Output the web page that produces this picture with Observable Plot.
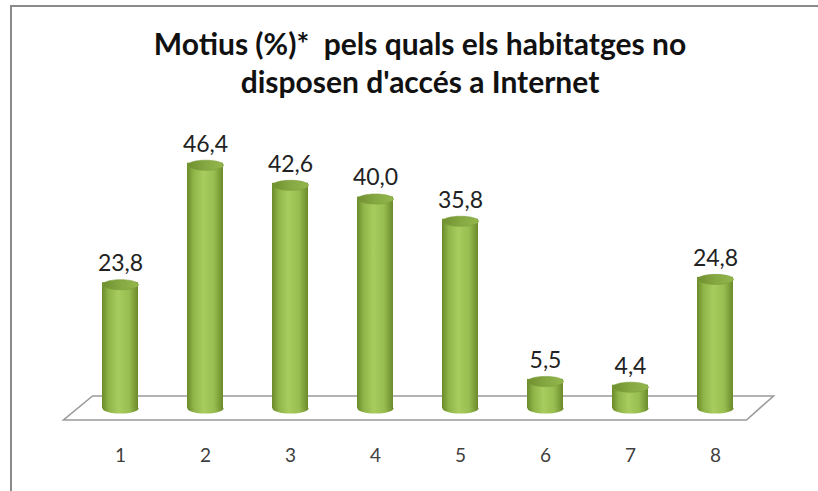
<!DOCTYPE html>
<html>
<head>
<meta charset="utf-8">
<script src="https://cdn.jsdelivr.net/npm/d3@7"></script>
<script src="https://cdn.jsdelivr.net/npm/@observablehq/plot@0.6"></script>
<style>
  html, body { margin: 0; padding: 0; background: #fff; }
  #wrap { position: relative; width: 818px; height: 491px; overflow: hidden; }
  #frame { position: absolute; left: 10px; top: 5px; right: -4px; bottom: -4px;
           border-left: 2px solid #8a8a8a; border-top: 2px solid #8a8a8a; }
  #title { position: absolute; left: 22px; top: 24px; width: 796px; text-align: center;
           font-family: Lato, "Open Sans", sans-serif; font-weight: 700; font-size: 30px;
           line-height: 38px; color: #111; white-space: pre; }
  #chart { position: absolute; left: 0; top: 0; }
</style>
</head>
<body>
<div id="wrap">
  <div id="frame"></div>
  <div id="chart"></div>
  <div id="title"></div>
</div>
<script>
const titleLines = ["Motius (%)*  pels quals els habitatges no", "disposen d'accés a Internet"];
const categories = ["1", "2", "3", "4", "5", "6", "7", "8"];
const values = [23.8, 46.4, 42.6, 40.0, 35.8, 5.5, 4.4, 24.8];

const data = categories.map((c, i) => ({cat: c, value: values[i]}));
const fmt = v => v.toFixed(1).replace(".", ",");

document.getElementById("title").textContent = titleLines.join("\n");

// ellipse symbol for cylinder caps
const ellipse = {
  draw(ctx, size) {
    const rx = Math.sqrt(size / Math.PI), ry = rx * 0.28, k = 0.5523;
    ctx.moveTo(-rx, 0);
    ctx.bezierCurveTo(-rx, -ry * k, -rx * k, -ry, 0, -ry);
    ctx.bezierCurveTo(rx * k, -ry, rx, -ry * k, rx, 0);
    ctx.bezierCurveTo(rx, ry * k, rx * k, ry, 0, ry);
    ctx.bezierCurveTo(-rx * k, ry, -rx, ry * k, -rx, 0);
    ctx.closePath();
  }
};

const NS = "http://www.w3.org/2000/svg";
function defsMark() {
  const g = document.createElementNS(NS, "defs");
  const mk = (id, stops) => {
    const lg = document.createElementNS(NS, "linearGradient");
    lg.setAttribute("id", id);
    lg.setAttribute("x1", "0"); lg.setAttribute("x2", "1");
    lg.setAttribute("y1", "0"); lg.setAttribute("y2", "0");
    for (const [o, c] of stops) {
      const s = document.createElementNS(NS, "stop");
      s.setAttribute("offset", o); s.setAttribute("stop-color", c);
      lg.appendChild(s);
    }
    g.appendChild(lg);
  };
  mk("body", [["0", "#6a8a2a"], ["0.18", "#8fb448"], ["0.45", "#a8cc5e"], ["0.75", "#98bd50"], ["1", "#6b8a2b"]]);
  mk("cap", [["0", "#6f8f2f"], ["0.5", "#86a842"], ["1", "#93b64c"]]);
  return g;
}

function floorMark(index, scales, values, dims) {
  const y0 = scales.y(0);
  const L = dims.marginLeft, R = dims.width - dims.marginRight;
  const pts = [[L + 15, y0 - 14], [L - 14, y0 + 10], [R - 11, y0 + 10], [R + 16, y0 - 14]];
  const p = document.createElementNS(NS, "polygon");
  p.setAttribute("points", pts.map(d => d.join(",")).join(" "));
  p.setAttribute("fill", "#fff");
  p.setAttribute("stroke", "#9a9a9a");
  p.setAttribute("stroke-width", "1.6");
  return p;
}

const chart = Plot.plot({
  width: 818,
  height: 491,
  marginLeft: 77.5,
  marginRight: 60.5,
  marginTop: 145.7,
  marginBottom: 81,
  style: {background: "transparent", fontFamily: "Lato, 'Open Sans', sans-serif"},
  x: {type: "band", domain: categories, paddingInner: 0.576, paddingOuter: 0.288, label: null},
  y: {domain: [0, 50], axis: null},
  marks: [
    defsMark,
    floorMark,
    Plot.dot(data, {x: "cat", y: () => 0, r: 18, dy: -2, symbol: ellipse, fill: "url(#body)", stroke: "none"}),
    Plot.barY(data, {x: "cat", y: "value", fill: "url(#body)", dy: -2}),
    Plot.dot(data, {x: "cat", y: "value", r: 18, symbol: ellipse, fill: "url(#cap)", stroke: "#7e9f3c", strokeWidth: 0.6}),
    Plot.text(data, {x: "cat", y: "value", text: d => fmt(d.value), dy: -21, lineAnchor: "middle", fontSize: 23, fill: "#222"}),
    Plot.axisX({tickSize: 0, tickPadding: 38, fontSize: 19, color: "#404040", label: null})
  ]
});
document.getElementById("chart").appendChild(chart);
</script>
</body>
</html>
